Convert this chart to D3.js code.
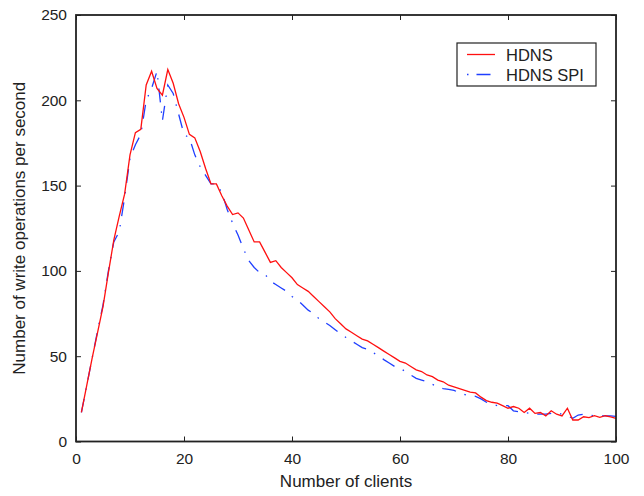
<!DOCTYPE html>
<html>
<head>
<meta charset="utf-8">
<script src="https://cdn.jsdelivr.net/npm/d3@7"></script>
<style>
  body { margin: 0; background: #fff; }
  text { font-family: "Liberation Sans", Arial, sans-serif; fill: #222; }
</style>
</head>
<body>
<div id="chart"></div>
<script>
// clients 1..100
const clients = d3.range(1, 101);

const hdns = [
  17, 33, 49, 64, 79, 99, 118, 132, 145, 168,
  181, 183, 209, 217, 207, 203, 218, 210, 198, 190,
  180, 178, 170, 160, 151, 151, 144, 138, 133, 134,
  131, 124, 117, 117, 111, 105, 106, 102, 99, 96,
  92, 90, 88, 85, 82, 79, 76, 72, 69, 66,
  64, 62, 60, 59, 57, 55, 53, 51, 49, 47,
  46, 44, 42, 41, 39, 38, 36, 35, 33, 32,
  31, 30, 29, 28.5, 26, 24, 23, 22.5, 21, 19.5,
  20.5, 19.5, 17, 19.5, 16.5, 17, 15, 18, 16, 15,
  19.5, 12.6, 12.6, 14.5, 14, 15.1, 14.2, 15.1, 14.5, 13.6
];

const hdnsSpi = [
  17, 33, 49, 65, 80, 100, 117, 123, 143, 166,
  174, 180, 200, 207, 217, 188, 209, 204, 192, 180,
  178, 168, 161, 156, 151, 151, 146, 136, 128, 121,
  113, 106, 102, 99, 98, 94, 92, 90, 88, 85,
  83, 80, 77, 75, 72, 70, 68, 65.5, 63, 61,
  59, 57, 55, 54, 52, 50.5, 48, 46, 44, 43,
  41, 39, 37, 36, 35, 33.5, 32, 31, 30.5, 30,
  28.5, 27.5, 27, 26.5, 25, 23, 22, 21, 21, 21,
  18, 17.5, 17, 16.5, 16, 16, 16, 16.5, 17, 16,
  15, 13.6, 15.5, 16, 15.5, 15, 15, 15, 15, 14.7
];

const xTicks = [0, 20, 40, 60, 80, 100];
const yTicks = [0, 50, 100, 150, 200, 250];

const margin = {top: 15, right: 28, bottom: 54.5, left: 76},
    width = 644 - margin.left - margin.right,
    height = 496 - margin.top - margin.bottom;

const svg = d3.select("#chart")
    .append("svg")
    .attr("width", 644)
    .attr("height", 496)
    .append("g")
    .attr("transform", `translate(${margin.left}, ${margin.top})`);

const x = d3.scaleLinear().domain([0, 100]).range([0, width]);
const y = d3.scaleLinear().domain([0, 250]).range([height, 0]);

// lines first, box on top
const line = vals => d3.line()
    .x((d, i) => x(clients[i]))
    .y(d => y(d))(vals);

svg.append("path")
    .attr("d", line(hdnsSpi))
    .attr("fill", "none")
    .attr("stroke", "#1f3fff")
    .attr("stroke-width", 1.3)
    .attr("stroke-dasharray", "14,9,1.5,9");

svg.append("path")
    .attr("d", line(hdns))
    .attr("fill", "none")
    .attr("stroke", "#ff1010")
    .attr("stroke-width", 1.3);

// axes, ticks pointing inward, mirrored on top/right
const styleAxis = g => {
    g.select(".domain").remove();
    g.selectAll("line").attr("stroke", "#222").attr("stroke-width", 1);
    g.selectAll("text").style("font-size", "15.5px");
};

svg.append("g")
    .attr("transform", `translate(0, ${height})`)
    .call(d3.axisBottom(x).tickValues(xTicks).tickSize(-5).tickPadding(11))
    .call(styleAxis);

svg.append("g")
    .call(d3.axisLeft(y).tickValues(yTicks).tickSize(-5).tickPadding(9))
    .call(styleAxis);

svg.append("g")
    .call(d3.axisTop(x).tickValues(xTicks).tickSize(-5).tickFormat(""))
    .call(styleAxis);

svg.append("g")
    .attr("transform", `translate(${width}, 0)`)
    .call(d3.axisRight(y).tickValues(yTicks).tickSize(-5).tickFormat(""))
    .call(styleAxis);

svg.append("rect")
    .attr("width", width)
    .attr("height", height)
    .attr("fill", "none")
    .attr("stroke", "#222")
    .attr("stroke-width", 1.8);

// axis labels
svg.append("text")
    .attr("x", width / 2)
    .attr("y", height + 45)
    .attr("text-anchor", "middle")
    .style("font-size", "17px")
    .text("Number of clients");

svg.append("text")
    .attr("transform", `translate(${-51}, ${height / 2}) rotate(-90)`)
    .attr("text-anchor", "middle")
    .style("font-size", "17px")
    .text("Number of write operations per second");

// legend
const legend = svg.append("g")
    .attr("transform", `translate(${457 - margin.left}, ${43 - margin.top})`);

legend.append("rect")
    .attr("width", 139)
    .attr("height", 43)
    .attr("fill", "#fff")
    .attr("stroke", "#222")
    .attr("stroke-width", 1.2);

const items = [
    {name: "HDNS", color: "#ff1010", dash: null},
    {name: "HDNS SPI", color: "#1f3fff", dash: "1.5,8,14,9"}
];

items.forEach((it, i) => {
    const cy = 11.5 + i * 20;
    legend.append("line")
        .attr("x1", 10).attr("x2", 38)
        .attr("y1", cy).attr("y2", cy)
        .attr("stroke", it.color)
        .attr("stroke-width", 1.3)
        .attr("stroke-dasharray", it.dash);
    legend.append("text")
        .attr("x", 49)
        .attr("y", cy + 6)
        .style("font-size", "16.5px")
        .text(it.name);
});
</script>
</body>
</html>
